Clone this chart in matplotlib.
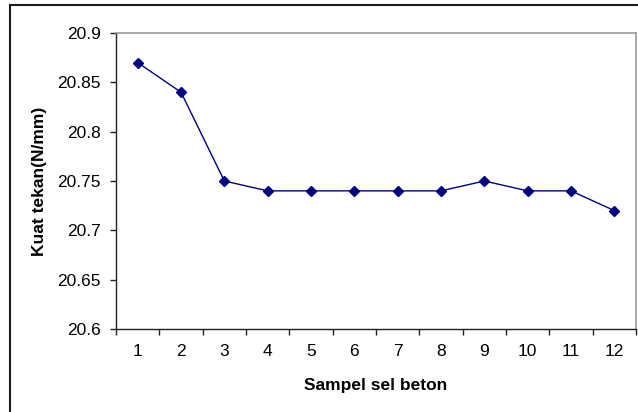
import numpy as np
import matplotlib
matplotlib.use("Agg")
import matplotlib.pyplot as plt
from matplotlib.patches import Rectangle

plt.rcParams["font.family"] = ["Liberation Sans", "DejaVu Sans"]

samples = ["1", "2", "3", "4", "5", "6", "7", "8", "9", "10", "11", "12"]
strength = [20.87, 20.84, 20.75, 20.74, 20.74, 20.74, 20.74, 20.74, 20.75, 20.74, 20.74, 20.72]
y_ticks = [20.6, 20.65, 20.7, 20.75, 20.8, 20.85, 20.9]
y_tick_labels = ["20.6", "20.65", "20.7", "20.75", "20.8", "20.85", "20.9"]

W, H = 638, 412
fig = plt.figure(figsize=(W / 100, H / 100), dpi=100, facecolor="white")

# outer chart border (cut off on right/bottom like the reference)
fig.patches.append(Rectangle((10 / W, -0.2), 1.5, (1.2 - 5 / H), transform=fig.transFigure,
                             fill=False, edgecolor="#1a1a1a", linewidth=1.5))

ax = fig.add_axes([116 / W, (H - 329) / H, 520 / W, 296 / H])
x = np.arange(len(samples))
ax.plot(x, strength, color="#000080", linewidth=1.0, marker="D", markersize=5,
        markerfacecolor="#000080", markeredgecolor="#000080")

ax.set_xlim(-0.5, len(samples) - 0.5)
ax.set_ylim(20.6, 20.9)
ax.set_yticks(y_ticks)
ax.set_yticklabels(y_tick_labels)

ax.set_xticks(x)
ax.set_xticklabels(samples)
ax.set_xticks(np.arange(len(samples) + 1) - 0.5, minor=True)
ax.tick_params(axis="x", which="major", length=0, pad=11, labelsize=12.5)
ax.tick_params(axis="x", which="minor", length=4, width=1, direction="out", color="#222222")
ax.tick_params(axis="y", length=4, width=1, direction="out", pad=7, labelsize=12.5, color="#222222")

for side in ["left", "bottom"]:
    ax.spines[side].set_color("#222222")
    ax.spines[side].set_linewidth(1.0)
for side in ["top", "right"]:
    ax.spines[side].set_color("#999999")
    ax.spines[side].set_linewidth(1.2)

ax.set_xlabel("Sampel sel beton", fontsize=12.5, fontweight="bold")
ax.set_ylabel("Kuat tekan(N/mm)", fontsize=12.5, fontweight="bold")
ax.xaxis.set_label_coords(0.5, (329 - 378) / 296)
ax.yaxis.set_label_coords((47 - 116) / 520, 0.5)

fig.savefig("out.png", dpi=100, facecolor="white")
